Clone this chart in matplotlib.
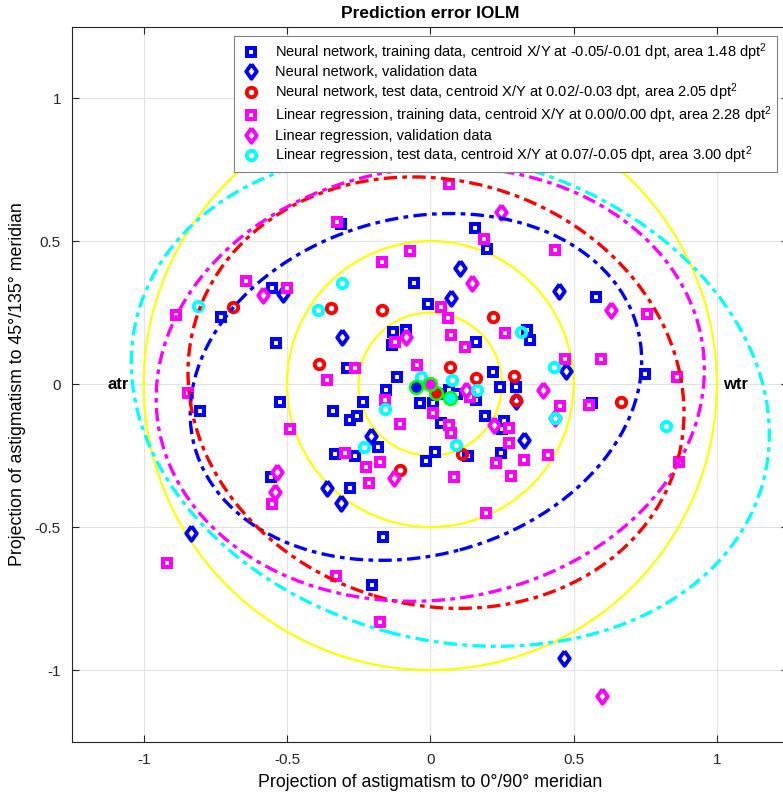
#!/usr/bin/env python3

import numpy as np
import matplotlib.pyplot as plt
from matplotlib.patches import Ellipse, Circle

plt.rcParams["font.family"] = ["Liberation Sans", "DejaVu Sans"]
plt.rcParams["mathtext.fontset"] = "custom"
plt.rcParams["mathtext.rm"] = "Liberation Sans"
plt.rcParams["mathtext.it"] = "Liberation Sans:italic"
plt.rcParams["mathtext.bf"] = "Liberation Sans:bold"

# ---- data (x = 0/90 projection, y = 45/135 projection) ----
nn_train_x = [-0.31, -0.551, -0.731, -0.54, -0.292, -0.805, -0.525, -0.235, -0.153, -0.339,
              -0.281, -0.254, -0.333, -0.264, -0.182, -0.554, -0.281, -0.016, 0.13, -0.165,
              -0.205, 0.248, 0.155, 0.198, -0.058, 0.58, -0.008, 0.336, 0.347, -0.086,
              0.159, 0.749, 0.219, 0.243, 0.298, 0.563, 0.19, 0.256, 0.252, 0.039,
              0.159, -0.037, 0.01, -0.13, -0.132, -0.116, 0.033, 0.066, 0.094, 0.016]
nn_train_y = [0.56, 0.337, 0.233, 0.144, 0.055, -0.093, -0.062, -0.062, -0.021, -0.093,
              -0.126, -0.112, -0.245, -0.252, -0.221, -0.324, -0.365, -0.269, -0.25, -0.536,
              -0.703, -0.242, 0.547, 0.471, 0.354, 0.305, 0.279, 0.189, 0.154, 0.189,
              0.148, 0.034, 0.043, -0.009, -0.009, -0.065, -0.111, -0.128, -0.158, -0.137,
              -0.056, -0.067, -0.065, 0.183, 0.136, 0.026, -0.033, -0.021, -0.033, -0.237]

nn_val_x = [-0.514, -0.308, -0.208, -0.359, -0.31, -0.834, 0.466, 0.103, 0.074, 0.45,
            0.472, 0.326, 0.30]
nn_val_y = [0.314, 0.165, -0.182, -0.365, -0.417, -0.52, -0.959, 0.405, 0.30, 0.325,
            0.047, -0.196, -0.058]

nn_test_x = [-0.69, -0.347, -0.167, -0.388, -0.106, 0.112, 0.219, 0.07, 0.161, 0.291,
             0.30, 0.667]
nn_test_y = [0.268, 0.267, 0.259, 0.069, -0.30, -0.245, 0.235, 0.058, 0.02, 0.029,
             -0.054, -0.064]

lr_train_x = [-0.327, -0.167, -0.644, -0.50, -0.888, -0.263, -0.362, -0.847, -0.159, -0.49,
              -0.296, -0.223, -0.176, -0.214, 0.083, 0.196, -0.552, -0.919, -0.33, -0.176,
              0.229, 0.326, 0.411, 0.28, 0.868, 0.066, 0.187, -0.069, 0.435, 0.039,
              0.062, 0.26, 0.074, 0.12, 0.597, 0.469, 0.861, 0.452, 0.554, 0.275,
              0.275, 0.066, 0.074, 0.008, -0.046, 0.138, -0.124, -0.106, 0.755]
lr_train_y = [0.567, 0.428, 0.36, 0.337, 0.241, 0.055, 0.014, -0.03, -0.056, -0.158,
              -0.24, -0.289, -0.272, -0.347, -0.324, -0.45, -0.42, -0.625, -0.671, -0.831,
              -0.277, -0.266, -0.248, -0.32, -0.272, 0.698, 0.506, 0.465, 0.469, 0.27,
              0.23, 0.179, 0.171, 0.13, 0.086, 0.086, 0.026, -0.077, -0.073, -0.153,
              -0.207, -0.143, -0.172, -0.10, 0.066, -0.044, 0.148, -0.141, 0.244]

lr_val_x = [-0.584, -0.083, -0.535, -0.543, -0.127, 0.60, 0.248, 0.147, 0.632, 0.394,
            0.222, 0.126, 0.435]
lr_val_y = [0.311, 0.165, -0.307, -0.377, -0.328, -1.09, 0.602, 0.352, 0.259, -0.019,
            -0.143, -0.021, -0.12]

lr_test_x = [-0.308, -0.39, -0.81, -0.159, -0.232, 0.315, 0.432, 0.824, 0.435, 0.089,
             0.163, 0.077, -0.031]
lr_test_y = [0.354, 0.259, 0.273, -0.088, -0.219, 0.183, 0.06, -0.147, -0.117, -0.213,
             -0.021, 0.014, 0.026]

# centroids and error ellipses (semi axes, tilt in degrees) per model/test set
centroid_x = [-0.05, 0.02, 0.00, 0.07]
centroid_y = [-0.01, -0.03, 0.00, -0.05]
ellipse_a = [0.80, 0.876, 0.96, 1.13]
ellipse_b = [0.59, 0.742, 0.755, 0.845]
ellipse_angle = [15, -17, 8, -15]
ellipse_colors = ["#0000ff", "#ff0000", "#ff00ff", "#00ffff"]

ring_radii = [0.25, 0.5, 1.0]

labels = [
    "Neural network, training data, centroid X/Y at -0.05/-0.01 dpt, area 1.48 dpt$^2$",
    "Neural network, validation data",
    "Neural network, test data, centroid X/Y at 0.02/-0.03 dpt, area 2.05 dpt$^2$",
    "Linear regression, training data, centroid X/Y at 0.00/0.00 dpt, area 2.28 dpt$^2$",
    "Linear regression, validation data",
    "Linear regression, test data, centroid X/Y at 0.07/-0.05 dpt, area 3.00 dpt$^2$",
]

# MATLAB-like diamond, a bit fatter than matplotlib's "d"
DIAMOND = [(0, 1), (0.72, 0), (0, -1), (-0.72, 0), (0, 1)]


def main():
    fig = plt.figure(figsize=(7.83, 7.97), dpi=100)
    ax = fig.add_axes([0.092, 0.0696, 0.915, 0.897])

    # yellow reference rings
    for r in ring_radii:
        ax.add_patch(Circle((0, 0), r, fill=False, ec="#ffff00", lw=1.6, zorder=1))

    sq = dict(ls="none", marker="s", ms=5.2, mew=2.9, mfc="white", zorder=3)
    dm = dict(ls="none", marker=DIAMOND, ms=10.5, mew=2.8, mfc="white", zorder=3)
    ci = dict(ls="none", marker="o", ms=6.8, mew=2.8, mfc="none", zorder=3)

    h = []
    h += ax.plot(nn_train_x, nn_train_y, mec="#0000ff", label=labels[0], **sq)
    h += ax.plot(nn_val_x, nn_val_y, mec="#0000ff", label=labels[1], **dm)
    h += ax.plot(nn_test_x, nn_test_y, mec="#ff0000", label=labels[2], **ci)
    h += ax.plot(lr_train_x, lr_train_y, mec="#ff00ff", label=labels[3], **sq)
    h += ax.plot(lr_val_x, lr_val_y, mec="#ff00ff", label=labels[4], **dm)
    h += ax.plot(lr_test_x, lr_test_y, mec="#00ffff", label=labels[5], **ci)

    # error ellipses
    for cx, cy, a, b, ang, col in zip(centroid_x, centroid_y, ellipse_a, ellipse_b,
                                      ellipse_angle, ellipse_colors):
        ax.add_patch(Ellipse((cx, cy), 2 * a, 2 * b, angle=ang, fill=False, ec=col,
                             lw=2.4, ls=(0, (4, 1.6, 1.4, 1.6)), zorder=4))

    # centroids
    for cx, cy, col in zip(centroid_x, centroid_y, ellipse_colors):
        ax.plot(cx, cy, marker="o", ms=9.2, mfc=col, mec="#00ff00", mew=1.8, zorder=5)

    ax.text(-1.09, 0, "atr", fontsize=12, fontweight="bold", ha="center", va="center")
    ax.text(1.065, 0, "wtr", fontsize=12, fontweight="bold", ha="center", va="center")

    ax.set_xlim(-1.25, 1.25)
    ax.set_ylim(-1.25, 1.25)
    ticks = [-1, -0.5, 0, 0.5, 1]
    ax.set_xticks(ticks)
    ax.set_yticks(ticks)
    ax.set_xticklabels(["-1", "-0.5", "0", "0.5", "1"])
    ax.set_yticklabels(["-1", "-0.5", "0", "0.5", "1"])
    ax.grid(True, color="#e3e3e3", lw=0.8, zorder=0)
    ax.set_axisbelow(True)
    ax.tick_params(direction="in", top=True, right=True, length=5, width=0.8,
                   labelsize=11, colors="#262626", pad=8)
    for s in ax.spines.values():
        s.set_color("#262626")
        s.set_linewidth(0.8)

    ax.set_title("Prediction error IOLM", fontsize=12.5, fontweight="bold", pad=6)
    ax.set_xlabel("Projection of astigmatism to 0°/90° meridian", fontsize=12.8, labelpad=5)
    ax.set_ylabel("Projection of astigmatism to 45°/135° meridian", fontsize=12.8, labelpad=6)

    leg = ax.legend(handles=h, loc="upper right", bbox_to_anchor=(777 / 783, 1 - 36 / 797),
                    bbox_transform=fig.transFigure, fontsize=10.5, frameon=True,
                    fancybox=False, edgecolor="#808080", framealpha=1,
                    handlelength=1.7, handletextpad=0.8, borderpad=0.35,
                    labelspacing=0.15, borderaxespad=0)
    leg.get_frame().set_linewidth(0.8)
    leg.set_zorder(10)

    fig.savefig("out.png", dpi=100)


if __name__ == "__main__":
    main()
